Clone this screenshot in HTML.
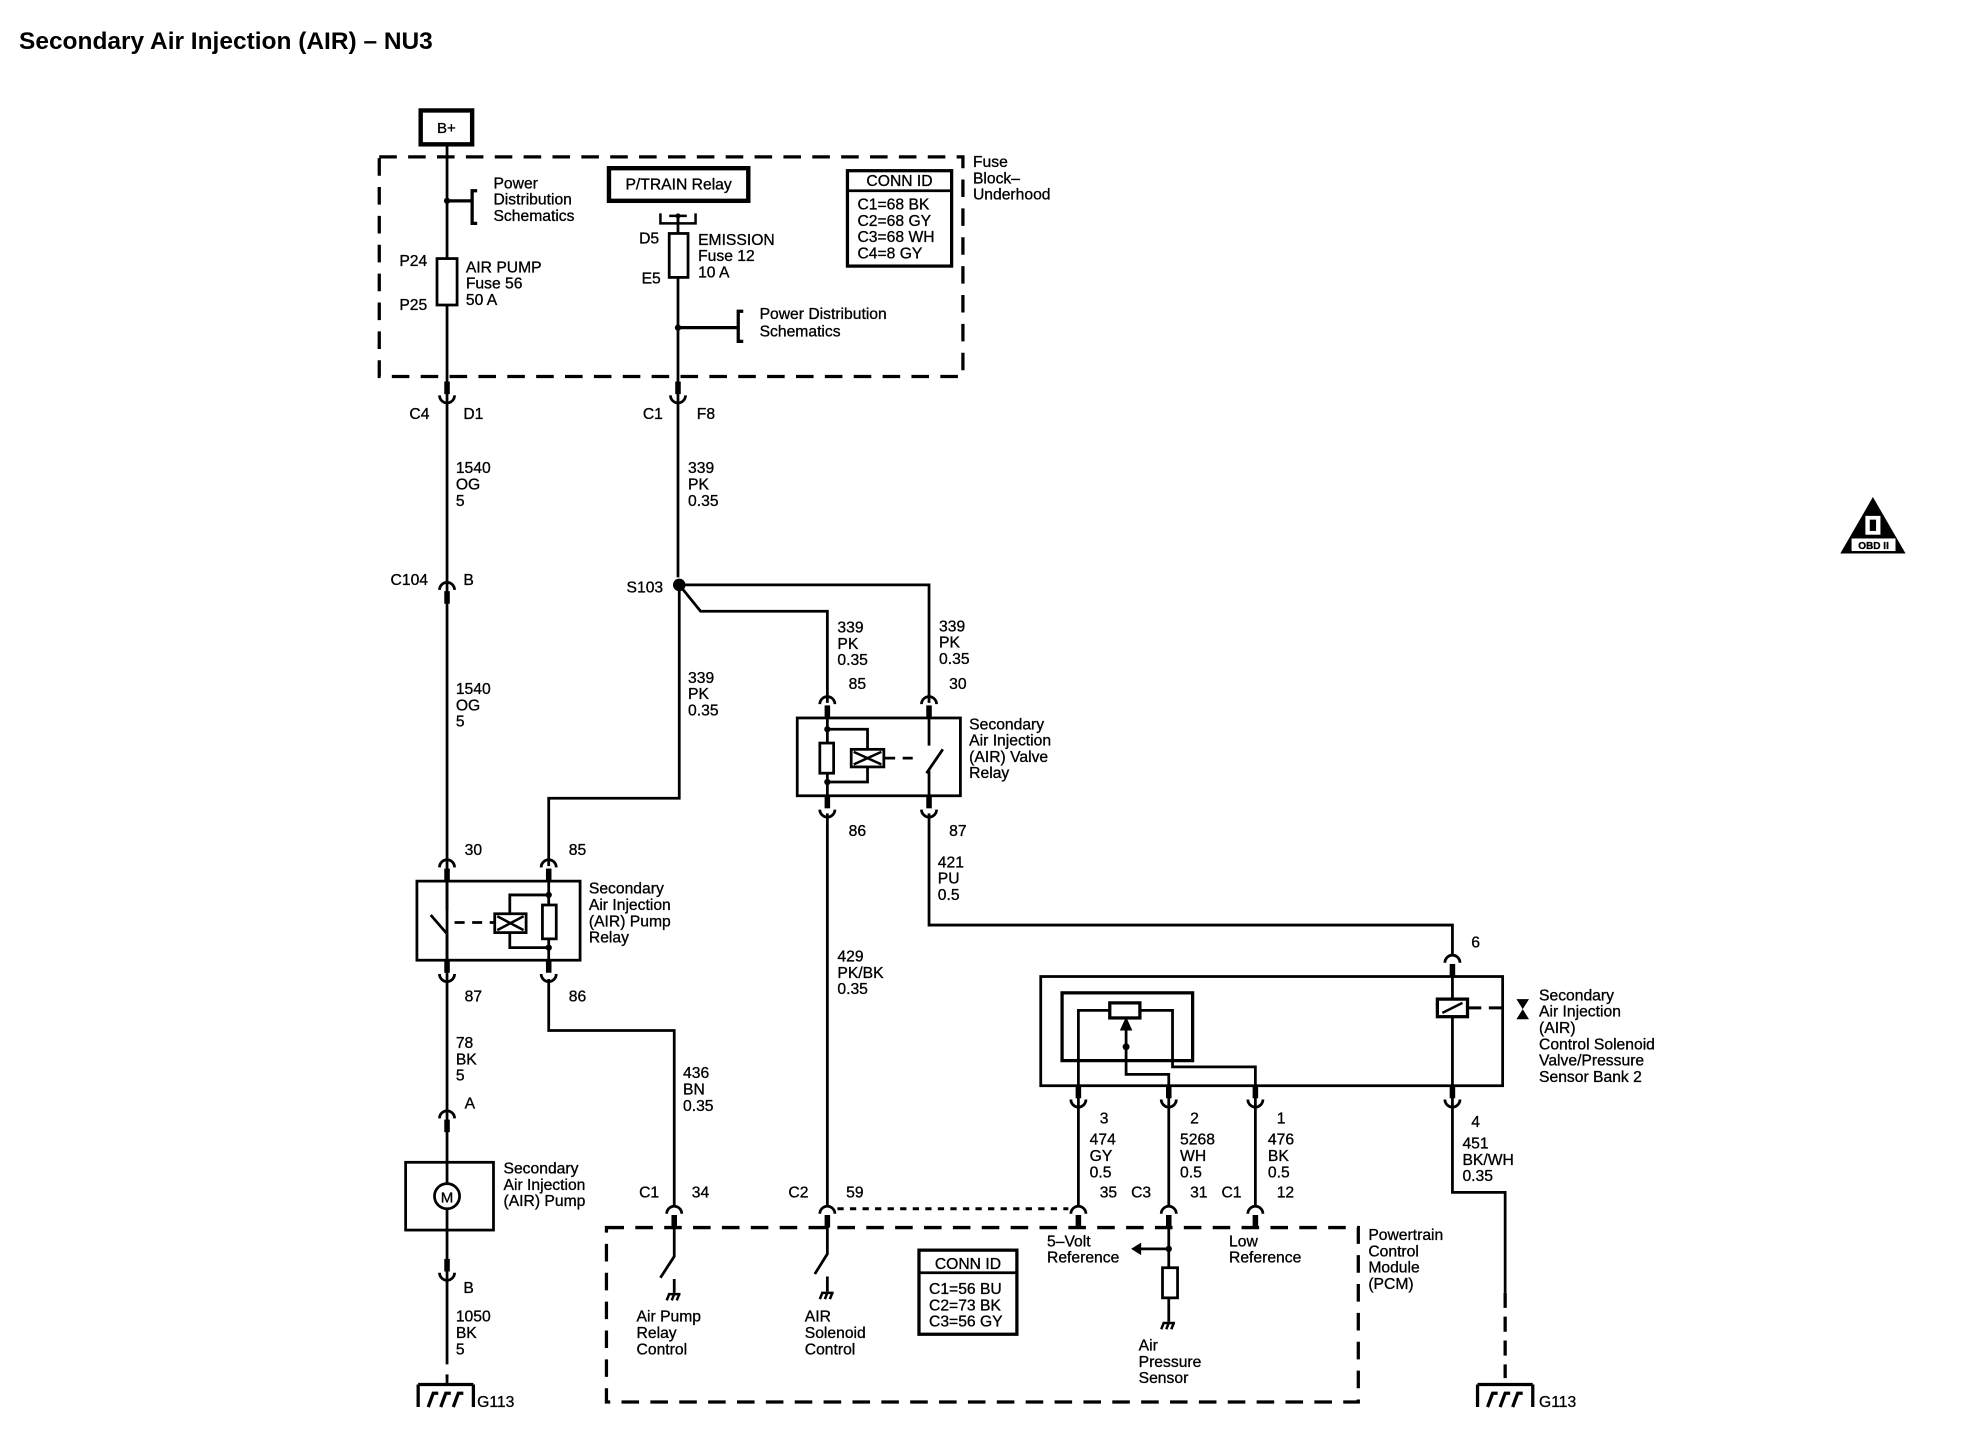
<!DOCTYPE html>
<html><head><meta charset="utf-8"><style>
html,body{margin:0;padding:0;background:#fff;}
svg{display:block;}
text{font-family:"Liberation Sans",Arial,sans-serif;font-size:12.5px;fill:#000;stroke:#000;stroke-width:0.25px;}
</style></head><body>
<svg width="1966" height="1456" viewBox="0 0 1566 1160" xmlns="http://www.w3.org/2000/svg">
<defs>
<g id="cap"><path d="M-6,7 A6,6 0 0 1 6,7" fill="none" stroke="#000" stroke-width="2.2"/><rect x="-2.2" y="8" width="4.4" height="10" fill="#000"/></g>
<g id="cup"><rect x="-2.2" y="-18" width="4.4" height="10" fill="#000"/><path d="M-6,-7 A6,6 0 0 0 6,-7" fill="none" stroke="#000" stroke-width="2.2"/></g>
<g id="gnd"><path d="M-22,0 H22 M-22,0 V18 M22,0 V18" fill="none" stroke="#000" stroke-width="2.6"/><path d="M-14,18 L-10,7 H-6 M-4,18 L0,7 H4 M6,18 L10,7 H14" fill="none" stroke="#000" stroke-width="2.6"/></g>
<g id="sg"><path d="M-5,0 H5 M-4,0 L-6,5 M0,0 L-2,5 M4,0 L2,5" fill="none" stroke="#000" stroke-width="2"/></g>
</defs>
<g fill="none" stroke="#000" stroke-width="2.2">
<rect x="302" y="125" width="465" height="175" stroke-width="2.6" stroke-dasharray="14,9"/>
<rect x="483" y="978" width="599" height="139" stroke-width="2.6" stroke-dasharray="14,9"/>
<rect x="335" y="88" width="41" height="27" stroke-width="3.5"/>
<path d="M356,115 V1098"/>
<path d="M356,160 H376 M380,152 H376 V178 H380" stroke-width="2.6"/>
<rect x="348" y="206" width="16" height="37" fill="#fff"/>
<rect x="485" y="134" width="111" height="26" stroke-width="3.5"/>
<path d="M526,170 V178 H554 V170 M533,172 H547 M540,172 V178" stroke-width="2"/>
<path d="M540,172 V460"/>
<rect x="533" y="186" width="15" height="35" fill="#fff"/>
<path d="M540,261 H588 M592,248 H588 V272 H592" stroke-width="2.6"/>
<path d="M541,466 V636 H437 V690"/>
<path d="M541,466 L558,487 H659 V560"/>
<path d="M541,466 H740 V560"/>
<rect x="332" y="702" width="130" height="63"/>
<path d="M356,702 V725 M343,729 L356,744 V765"/>
<path d="M362,735 H398" stroke-dasharray="8,6"/>
<path d="M437,702 V765 M437,713 H406 V755 H437"/>
<rect x="394" y="728" width="25" height="15" fill="#fff"/>
<path d="M396,730 L417,741 M417,730 L396,741" stroke-width="2"/>
<rect x="432" y="721" width="11" height="27" fill="#fff"/>
<path d="M437,780 V821 H537 V962"/>
<rect x="323" y="926" width="70" height="54"/>
<circle cx="356" cy="953" r="10" fill="#fff"/>
<rect x="635" y="572" width="130" height="62"/>
<path d="M659,572 V634 M659,581 H691 V623 H659"/>
<rect x="653" y="592" width="11" height="24" fill="#fff"/>
<rect x="678" y="597" width="26" height="14" fill="#fff"/>
<path d="M680,599 L702,609 M702,599 L680,609" stroke-width="2"/>
<path d="M705,604 H733" stroke-dasharray="8,6"/>
<path d="M740,572 V594 M738,616 L751,597 M740,614 V634"/>
<path d="M659,648 V962"/>
<path d="M740,648 V737 H1157 V762"/>
<rect x="829" y="778" width="368" height="87"/>
<rect x="846" y="791" width="104" height="54" stroke-width="2.6"/>
<path d="M859,880 V805 H884 M908,805 H934 V850 H1000 V880"/>
<rect x="884" y="799" width="24" height="12" stroke-width="2.6"/>
<path d="M897,834 V856 H931 V880"/>
<path d="M897,834 V820"/>
<path d="M1157,770 V950 H1199 V1030"/>
<path d="M1199,1030 V1098" stroke-width="2.6" stroke-dasharray="12,7"/>
<rect x="1145" y="796" width="24" height="14" stroke-width="2.6" fill="#fff"/>
<path d="M1149,807 L1165,799" stroke-width="2"/>
<path d="M1169,803 H1180 M1186,803 H1197" stroke-width="2.4"/>
<path d="M859,880 V962 M931,880 V962 M1000,880 V962"/>
<path d="M667,963 H851" stroke-width="2.4" stroke-dasharray="5,5"/>
<path d="M537,978 V1001 L526,1018 M537,1019 V1030"/>
<path d="M659,978 V999 L649,1015 M659,1017 V1029"/>
<path d="M931,978 V1053 M931,995 H906"/>
<rect x="926" y="1010" width="12" height="24" fill="#fff"/>
<rect x="732" y="996" width="78" height="67" stroke-width="2.6"/>
<path d="M732,1014 H810" stroke-width="2.2"/>
<rect x="675" y="136" width="83" height="76" stroke-width="2.6"/>
<path d="M675,152 H758" stroke-width="2.2"/>
</g>
<g fill="#000">
<circle cx="356" cy="160" r="2.5"/><circle cx="540" cy="261" r="2.5"/><circle cx="540" cy="172" r="2"/>
<circle cx="541" cy="466" r="5"/>
<circle cx="437" cy="713" r="2.5"/><circle cx="437" cy="755" r="2.5"/>
<circle cx="659" cy="581" r="2.5"/><circle cx="659" cy="623" r="2.5"/>
<circle cx="897" cy="834" r="2.8"/><circle cx="931" cy="995" r="2.5"/>
<path d="M897,810 L892,821 H902 Z"/>
<path d="M901,995 L909,990 V1000 Z"/>
<path d="M1208,796 H1218 L1213,804 Z M1208,812 H1218 L1213,804 Z"/>
<path d="M1492,396 L1518,441 H1466 Z"/>
</g>
<rect x="1486" y="411" width="12" height="15" fill="#fff"/>
<rect x="1489.5" y="414" width="5" height="9" fill="#000"/>
<rect x="1475" y="429" width="35" height="10" fill="#fff"/>
<text x="1492.5" y="437.5" text-anchor="middle" style="font-size:8px;font-weight:bold">OBD II</text>
<use href="#cup" x="356" y="322"/><use href="#cup" x="540" y="322"/>
<use href="#cap" x="356" y="463"/>
<use href="#cap" x="356" y="684"/><use href="#cap" x="437" y="684"/>
<use href="#cup" x="356" y="783"/><use href="#cup" x="437" y="783"/>
<use href="#cap" x="356" y="884"/>
<use href="#cup" x="356" y="1021"/>
<use href="#cap" x="659" y="554"/><use href="#cap" x="740" y="554"/>
<use href="#cup" x="659" y="652"/><use href="#cup" x="740" y="652"/>
<use href="#cap" x="1157" y="760"/>
<use href="#cup" x="859" y="883"/><use href="#cup" x="931" y="883"/><use href="#cup" x="1000" y="883"/><use href="#cup" x="1157" y="883"/>
<use href="#cap" x="537" y="960"/><use href="#cap" x="659" y="960"/><use href="#cap" x="859" y="960"/><use href="#cap" x="931" y="960"/><use href="#cap" x="1000" y="960"/>
<path d="M356,1090 V1103" stroke="#000" stroke-width="2.2"/>
<use href="#gnd" x="355" y="1103"/>
<use href="#gnd" x="1199" y="1103"/>
<use href="#sg" x="537" y="1031"/><use href="#sg" x="659" y="1030"/><use href="#sg" x="931" y="1054"/>
<rect x="354" y="1087" width="4" height="8" fill="#fff"/>
<text x="15" y="39" style="font-size:19.5px;font-weight:bold;stroke-width:0">Secondary Air Injection (AIR) – NU3</text>
<text x="348" y="106" style="font-size:12px">B+</text>
<text x="775" y="133">Fuse</text><text x="775" y="146">Block–</text><text x="775" y="159">Underhood</text>
<text x="393" y="150">Power</text><text x="393" y="163">Distribution</text><text x="393" y="176">Schematics</text>
<text x="318" y="212">P24</text><text x="318" y="247">P25</text>
<text x="371" y="217">AIR PUMP</text><text x="371" y="230">Fuse 56</text><text x="371" y="243">50 A</text>
<text x="540.5" y="151" text-anchor="middle">P/TRAIN Relay</text>
<text x="509" y="194">D5</text><text x="511" y="226">E5</text>
<text x="556" y="195">EMISSION</text><text x="556" y="208">Fuse 12</text><text x="556" y="221">10  A</text>
<text x="605" y="254">Power Distribution</text><text x="605" y="268">Schematics</text>
<text x="716.5" y="148" text-anchor="middle">CONN ID</text>
<text x="683" y="167">C1=68 BK</text><text x="683" y="180">C2=68 GY</text><text x="683" y="193">C3=68 WH</text><text x="683" y="206">C4=8 GY</text>
<text x="326" y="334">C4</text><text x="369" y="334">D1</text>
<text x="512" y="334">C1</text><text x="555" y="334">F8</text>
<text x="363" y="377">1540</text><text x="363" y="390">OG</text><text x="363" y="403">5</text>
<text x="548" y="377">339</text><text x="548" y="390">PK</text><text x="548" y="403">0.35</text>
<text x="311" y="466">C104</text><text x="369" y="466">B</text>
<text x="499" y="472">S103</text>
<text x="363" y="553">1540</text><text x="363" y="566">OG</text><text x="363" y="579">5</text>
<text x="548" y="544">339</text><text x="548" y="557">PK</text><text x="548" y="570">0.35</text>
<text x="667" y="504">339</text><text x="667" y="517">PK</text><text x="667" y="530">0.35</text>
<text x="748" y="503">339</text><text x="748" y="516">PK</text><text x="748" y="529">0.35</text>
<text x="676" y="549">85</text><text x="756" y="549">30</text>
<text x="772" y="581">Secondary</text><text x="772" y="594">Air Injection</text><text x="772" y="607">(AIR) Valve</text><text x="772" y="620">Relay</text>
<text x="676" y="666">86</text><text x="756" y="666">87</text>
<text x="747" y="691">421</text><text x="747" y="704">PU</text><text x="747" y="717">0.5</text>
<text x="370" y="681">30</text><text x="453" y="681">85</text>
<text x="469" y="712">Secondary</text><text x="469" y="725">Air Injection</text><text x="469" y="738">(AIR) Pump</text><text x="469" y="751">Relay</text>
<text x="370" y="798">87</text><text x="453" y="798">86</text>
<text x="667" y="766">429</text><text x="667" y="779">PK/BK</text><text x="667" y="792">0.35</text>
<text x="1172" y="755">6</text>
<text x="1226" y="797">Secondary</text><text x="1226" y="810">Air Injection</text><text x="1226" y="823">(AIR)</text><text x="1226" y="836">Control Solenoid</text><text x="1226" y="849">Valve/Pressure</text><text x="1226" y="862">Sensor Bank 2</text>
<text x="363" y="835">78</text><text x="363" y="848">BK</text><text x="363" y="861">5</text>
<text x="544" y="859">436</text><text x="544" y="872">BN</text><text x="544" y="885">0.35</text>
<text x="370" y="883">A</text>
<text x="876" y="895">3</text><text x="868" y="912">474</text><text x="868" y="925">GY</text><text x="868" y="938">0.5</text>
<text x="948" y="895">2</text><text x="940" y="912">5268</text><text x="940" y="925">WH</text><text x="940" y="938">0.5</text>
<text x="1017" y="895">1</text><text x="1010" y="912">476</text><text x="1010" y="925">BK</text><text x="1010" y="938">0.5</text>
<text x="1172" y="898">4</text><text x="1165" y="915">451</text><text x="1165" y="928">BK/WH</text><text x="1165" y="941">0.35</text>
<text x="401" y="935">Secondary</text><text x="401" y="948">Air Injection</text><text x="401" y="961">(AIR) Pump</text>
<text x="356" y="958" text-anchor="middle" style="font-size:12px">M</text>
<text x="509" y="954">C1</text><text x="551" y="954">34</text>
<text x="628" y="954">C2</text><text x="674" y="954">59</text>
<text x="876" y="954">35</text><text x="901" y="954">C3</text><text x="948" y="954">31</text><text x="973" y="954">C1</text><text x="1017" y="954">12</text>
<text x="369" y="1030">B</text>
<text x="363" y="1053">1050</text><text x="363" y="1066">BK</text><text x="363" y="1079">5</text>
<text x="834" y="993">5–Volt</text><text x="834" y="1006">Reference</text>
<text x="979" y="993">Low</text><text x="979" y="1006">Reference</text>
<text x="1090" y="988">Powertrain</text><text x="1090" y="1001">Control</text><text x="1090" y="1014">Module</text><text x="1090" y="1027">(PCM)</text>
<text x="771" y="1011" text-anchor="middle">CONN ID</text>
<text x="740" y="1031">C1=56 BU</text><text x="740" y="1044">C2=73 BK</text><text x="740" y="1057">C3=56 GY</text>
<text x="507" y="1053">Air Pump</text><text x="507" y="1066">Relay</text><text x="507" y="1079">Control</text>
<text x="641" y="1053">AIR</text><text x="641" y="1066">Solenoid</text><text x="641" y="1079">Control</text>
<text x="907" y="1076">Air</text><text x="907" y="1089">Pressure</text><text x="907" y="1102">Sensor</text>
<text x="380" y="1121">G113</text><text x="1226" y="1121">G113</text>
</svg>
</body></html>
